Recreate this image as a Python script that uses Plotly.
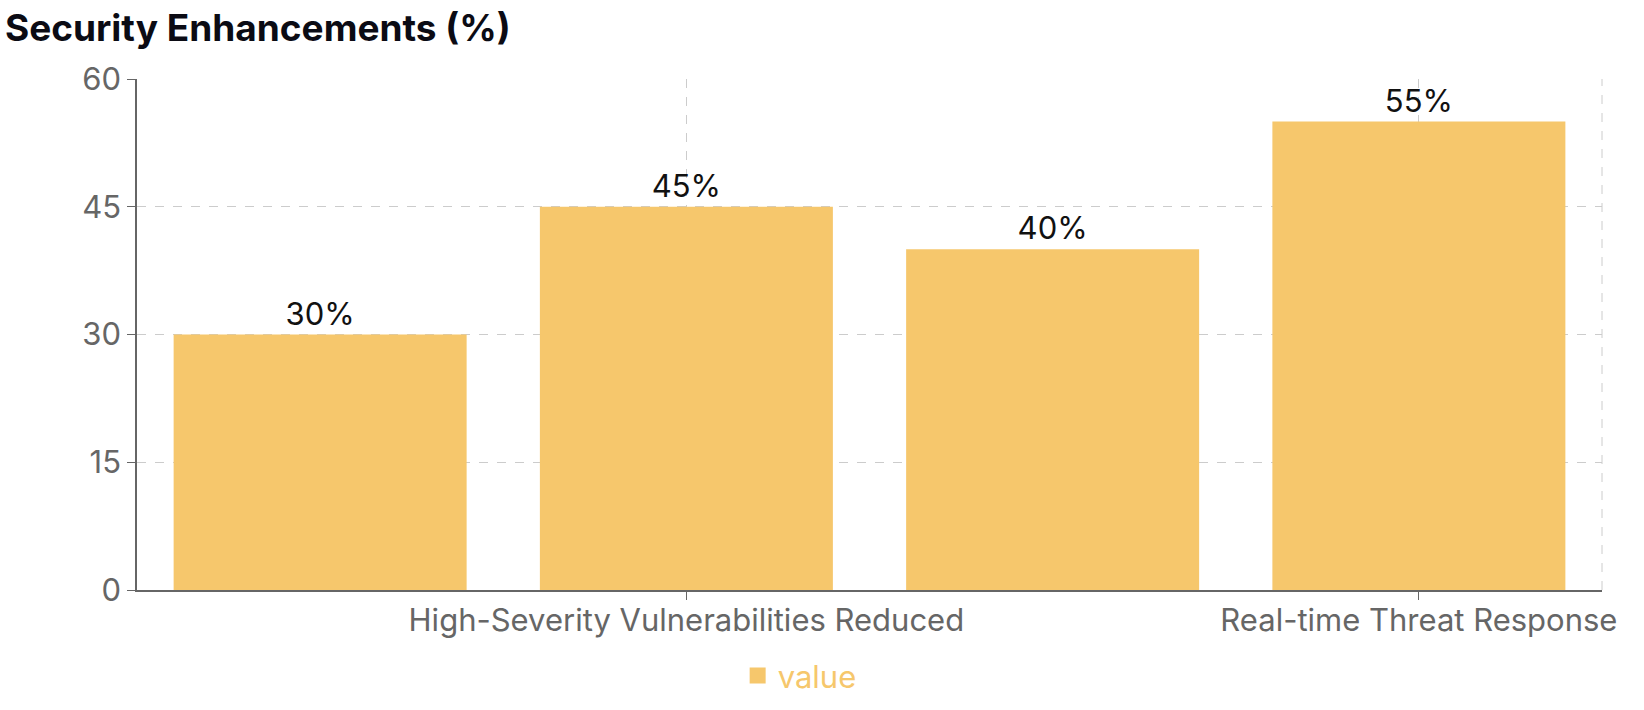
import plotly.graph_objects as go

categories = [
    "Security Incidents Reduced",
    "High-Severity Vulnerabilities Reduced",
    "Compliance Score Improvement",
    "Real-time Threat Response",
]
values = [30, 45, 40, 55]
labels = [f"{v}%" for v in values]
shown_ticks = [categories[1], categories[3]]
y_ticks = [0, 15, 30, 45, 60]

BAR = "#F6C76C"
AXIS = "#666666"
GRID = "#CCCCCC"
FONT = "Inter, Liberation Sans, sans-serif"

fig = go.Figure()
fig.add_trace(go.Bar(
    x=categories, y=values, name="value",
    marker=dict(color=BAR, line=dict(width=0)),
    text=labels, textposition="outside", cliponaxis=False,
    textfont=dict(family=FONT, size=31, color="#111111"),
    showlegend=False,
))
# legend entry for the series
fig.add_trace(go.Scatter(
    x=[None], y=[None], name="value", mode="markers",
    marker=dict(symbol="square", size=28, color=BAR),
    showlegend=True,
))

fig.update_layout(
    width=1644, height=710,
    margin=dict(l=137, r=42, t=79, b=120, autoexpand=False),
    paper_bgcolor="white", plot_bgcolor="white",
    bargap=0.2,
    title=dict(text="<b>Security Enhancements (%)</b>", x=0.003, xanchor="left",
               y=0.961, yanchor="middle",
               font=dict(family="Inter, sans-serif", size=37, color="#0b0b14")),
    showlegend=True,
    legend=dict(orientation="h", x=0.41, xanchor="left", y=-0.168, yanchor="middle",
                font=dict(family=FONT, size=31, color=BAR),
                itemsizing="trace"),
    font=dict(family=FONT),
)

fig.update_xaxes(
    type="category", range=[-0.5, 3.5], automargin=False,
    tickmode="array", tickvals=shown_ticks, ticktext=shown_ticks,
    showline=True, linecolor=AXIS, linewidth=1.5,
    ticks="outside", ticklen=8, tickcolor=AXIS, ticklabelstandoff=-6,
    tickfont=dict(size=31, color=AXIS),
    showgrid=True, gridcolor=GRID, griddash="dash", gridwidth=1,
)
fig.update_yaxes(
    range=[0, 60], tickmode="array", tickvals=y_ticks, automargin=False,
    showline=True, linecolor=AXIS, linewidth=1.5,
    ticks="outside", ticklen=8, tickcolor=AXIS,
    tickfont=dict(size=31, color=AXIS),
    showgrid=True, gridcolor=GRID, griddash="dash", gridwidth=1,
    zeroline=False,
)

fig.add_shape(type="line", xref="x domain", yref="y domain", x0=1, x1=1, y0=0, y1=1,
              line=dict(color=GRID, width=1, dash="dash"), layer="below")

fig.write_html("out.html")
